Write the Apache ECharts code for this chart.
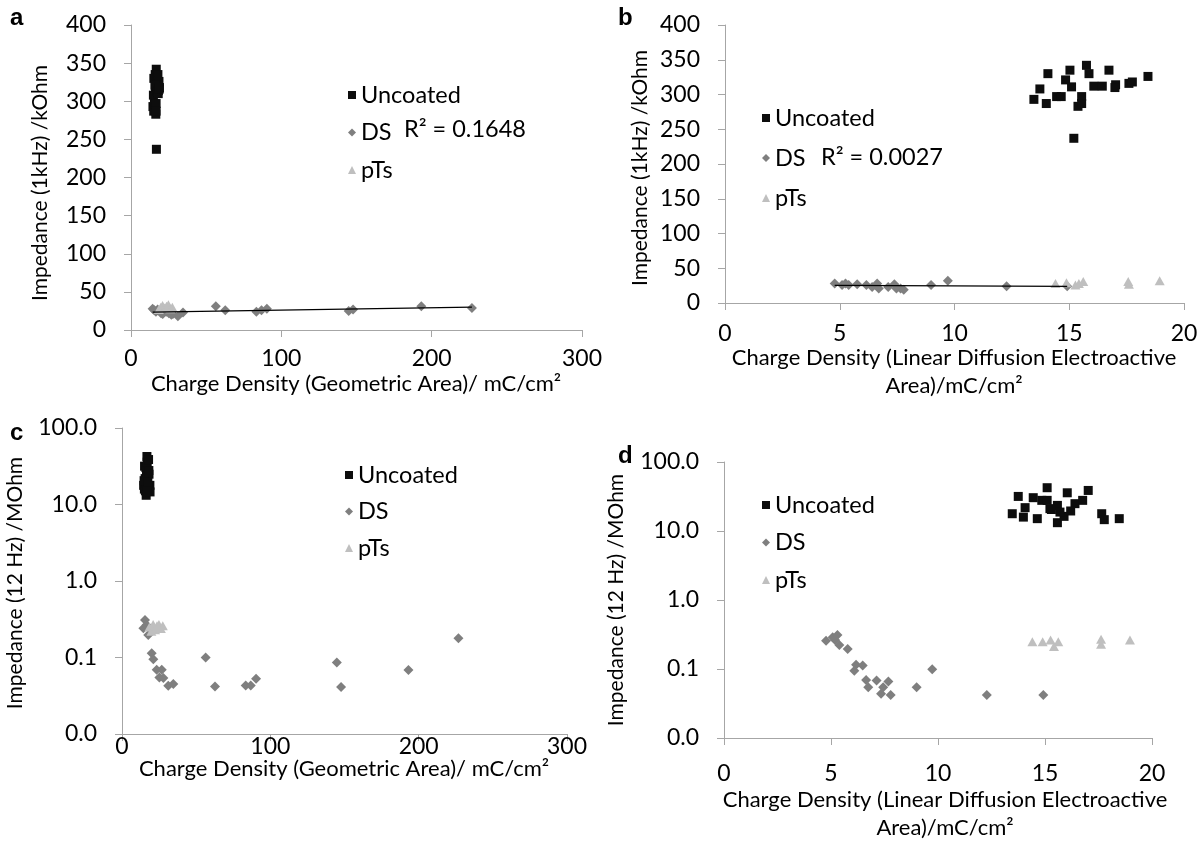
<!DOCTYPE html>
<html><head><meta charset="utf-8">
<script src="https://cdn.jsdelivr.net/npm/echarts@6/dist/echarts.min.js"></script>
<style>html,body{margin:0;padding:0;background:#fff}#c{width:1204px;height:845px}</style>
</head><body><div id="c"></div>
<script>
// ---- Panel a: Impedance (1 kHz) vs charge density (geometric area)
const aUncX = [15.2,16.1,16.8,17.0,17.9,18.6,15.9,16.3,14.9,14.6,15.1,15.6,15.8,16.7,16.5,16.7,17.2,17.6,18.2,18.1,18.8,18.9,16.9];
const aUncY = [330,335,342,330,335,326,321,311,308,293,287,297,297,297,283,287,312,312,314,310,316,318,237];
const aDsX = [14.4,15.5,16.6,17.7,20,21.1,23.4,26.8,25.2,27.9,31.2,34.6,56.4,62.7,83.4,86.8,90.4,144.8,147.7,193.1,226.8];
const aDsY = [28,26,24,27,22,21,24,20,22,21,18,23,31,26,24,26,28,25,27,31,29];
const aPtsX = [18.5,19.8,21,22.3,23.6,24.9,26.2,27.5];
const aPtsY = [27,30,32,29,31,33,28,30];
const aR2 = 'R² = 0.1648';

// ---- Panel b: Impedance (1 kHz) vs charge density (linear diffusion electroactive area)
const bUncX = [14.07,15.03,15.75,15.86,16.73,18.43,14.84,15.1,13.72,13.46,14.0,14.45,14.65,15.54,15.38,15.54,16.07,16.44,17.02,16.99,17.6,17.75,15.2];
const bUncY = [330,335,342,330,335,326,321,311,308,293,287,297,297,297,283,287,312,312,314,310,316,318,237];
const bDsX = [4.78,5.1,5.25,5.39,5.76,6.16,6.41,6.63,6.7,7.11,7.38,7.47,7.65,7.79,8.98,9.71,12.27,14.91];
const bDsY = [28,26,28,26,27,26,23,28,21,23,27,21,21,19,26,32,24,24];
const bPtsX = [14.4,14.88,15.27,15.42,15.61,17.57,17.6,18.94];
const bPtsY = [28,29,26,28,31,31,27,32];
const bR2 = 'R² = 0.0027';

// ---- Panel c: Impedance (12 Hz) vs charge density (geometric area)
const cUncX = [15.2,16.1,16.8,17.0,17.9,14.6,15.1,15.6,15.8,16.7,16.5,16.7,17.2,16.3,17.6,15.9,18.2,18.1,18.8,18.9,16.9,14.9,17.4];
const cUncY = [31.7,30.4,42.4,35.8,38.7,17.8,15.9,21.8,15.1,27.8,27.8,21.1,23.5,13.2,16.3,18.8,24.9,27.8,17.8,14.6,15.1,20.5,19.5];
const cDsX = [15.5,14.4,16.6,17.7,20,21.1,23.4,26.8,25.2,27.9,31.2,34.6,56.4,62.7,83.4,86.8,90.4,144.8,147.7,193.1,226.8];
const cDsY = [0.31,0.241,0.266,0.197,0.114,0.095,0.069,0.069,0.0547,0.0539,0.0426,0.0452,0.0998,0.0417,0.043,0.043,0.0526,0.0858,0.041,0.0689,0.179];
const cPtsX = [18.5,19.8,21,22.3,23.6,24.9,26.2,27.5];
const cPtsY = [0.25,0.22,0.27,0.23,0.26,0.27,0.24,0.26];

// ---- Panel d: Impedance (12 Hz) vs charge density (linear diffusion electroactive area)
const dUncX = [13.75,14.45,15.1,16.04,17.02,13.47,13.99,14.07,14.64,14.85,15.1,15.23,15.58,15.58,15.89,15.7,16.4,16.76,17.65,17.77,18.47,15.3,16.2];
const dUncY = [31.7,30.4,42.4,35.8,38.7,17.8,15.9,21.8,15.1,27.8,27.8,21.1,23.5,13.2,16.3,18.8,24.9,27.8,17.8,14.6,15.1,20.5,19.5];
const dDsX = [4.77,5.08,5.3,5.19,5.39,5.78,6.17,6.48,6.09,6.64,6.74,7.13,7.68,7.44,7.34,7.79,9.0,9.73,12.28,14.92];
const dDsY = [0.257,0.288,0.311,0.263,0.223,0.195,0.115,0.112,0.094,0.0695,0.0545,0.068,0.0658,0.0545,0.0437,0.042,0.0545,0.099,0.042,0.042];
const dPtsX = [14.41,14.89,15.26,15.42,15.62,17.62,17.62,18.97];
const dPtsY = [0.249,0.249,0.263,0.211,0.249,0.27,0.229,0.263];

const names = ['Uncoated','DS','pTs'];
const logTicks = ['100.0','10.0','1.0','0.1','0.0'];
const xTitleGeo = 'Charge Density (Geometric Area)/ mC/cm²';
const xTitleLin = 'Charge Density (Linear Diffusion Electroactive\nArea)/mC/cm²';
const yTitle1k = 'Impedance (1kHz) /kOhm';
const yTitle12 = 'Impedance (12 Hz) /MOhm';

const FONT = 'Lato';
const zip = (xs, ys) => xs.map((x, i) => [x, ys[i]]);
function trend(xs, ys) {
  const n = xs.length;
  const mx = xs.reduce((s, v) => s + v, 0) / n;
  const my = ys.reduce((s, v) => s + v, 0) / n;
  let sxy = 0, sxx = 0;
  for (let i = 0; i < n; i++) { sxy += (xs[i]-mx)*(ys[i]-my); sxx += (xs[i]-mx)*(xs[i]-mx); }
  const b = sxy / sxx, a = my - b * mx;
  const x0 = Math.min(...xs), x1 = Math.max(...xs);
  return [[x0, a + b*x0], [x1, a + b*x1]];
}

const axisLineGray = '#a6a6a6';
const LBL = 23;
function xAxis(gi, max, interval, margin) {
  return {
    type: 'value', gridIndex: gi, min: 0, max: max, interval: interval,
    axisLine: { show: true, lineStyle: { color: axisLineGray, width: 1 } },
    axisTick: { show: true, inside: false, length: 7, lineStyle: { color: axisLineGray } },
    axisLabel: { fontFamily: FONT, fontSize: LBL, color: '#000', margin: margin },
    splitLine: { show: false }
  };
}
function yLin(gi) {
  return {
    type: 'value', gridIndex: gi, min: 0, max: 400, interval: 50,
    axisLine: { show: true, lineStyle: { color: axisLineGray, width: 1 } },
    axisTick: { show: true, inside: false, length: 7, lineStyle: { color: axisLineGray } },
    axisLabel: { fontFamily: FONT, fontSize: LBL, color: '#000', margin: 25 },
    splitLine: { show: false }
  };
}
function yLog(gi) {
  return {
    type: 'log', logBase: 10, gridIndex: gi, min: 0.01, max: 100, splitNumber: 4,
    axisLine: { show: true, lineStyle: { color: axisLineGray, width: 1 } },
    axisTick: { show: true, inside: false, length: 7, lineStyle: { color: axisLineGray } },
    axisLabel: { fontFamily: FONT, fontSize: LBL, color: '#000', margin: 25,
      formatter: v => logTicks[Math.round(2 - Math.log10(v))] },
    splitLine: { show: false }, minorTick: { show: false }
  };
}
function scatterSet(gi, unc, ds, pts, withTrend) {
  const s = [
    { name: 'Uncoated', type: 'scatter', xAxisIndex: gi, yAxisIndex: gi, data: unc,
      symbol: 'rect', symbolSize: 9, itemStyle: { color: '#0d0d0d', opacity: 1 } },
    { name: 'DS', type: 'scatter', xAxisIndex: gi, yAxisIndex: gi, data: ds,
      symbol: 'diamond', symbolSize: [10, 10], itemStyle: { color: '#7f7f7f', opacity: 1 } },
    { name: 'pTs', type: 'scatter', xAxisIndex: gi, yAxisIndex: gi, data: pts,
      symbol: 'triangle', symbolSize: [10, 9], itemStyle: { color: '#bfbfbf', opacity: 1 } }
  ];
  if (withTrend) {
    s.push({ name: 'trend', type: 'line', xAxisIndex: gi, yAxisIndex: gi,
      data: trend(ds.map(p => p[0]), ds.map(p => p[1])), symbol: 'none', silent: true,
      lineStyle: { color: '#000', width: 1.2 }, z: 5 });
  }
  return s;
}
function legend(left, top, gap) {
  return { data: names, orient: 'vertical', left: left, top: top, itemGap: gap,
    itemWidth: 8, itemHeight: 8, selectedMode: false,
    textStyle: { fontFamily: FONT, fontSize: 23.5, color: '#000', lineHeight: 26 } };
}
function txt(x, y, text, size, bold) {
  return { type: 'text', left: x, top: y, style: { text: text, font: (bold ? 'bold ' : '') + size + 'px ' + (bold ? 'Liberation Sans' : FONT), fill: '#000' } };
}
function title(cx, cy, text, rotated, size) {
  return { type: 'text', x: cx, y: cy, rotation: rotated ? Math.PI / 2 : 0,
    style: { text: text, font: size + 'px ' + FONT, fill: '#000', lineHeight: 28,
      align: 'center', verticalAlign: 'middle', textAlign: 'center', textVerticalAlign: 'middle' } };
}

const chart = echarts.init(document.getElementById('c'), null, { renderer: 'canvas' });
chart.setOption({
  animation: false,
  backgroundColor: '#fff',
  grid: [
    { left: 131, top: 25, width: 451, height: 305, outerBoundsMode: 'none' },
    { left: 725, top: 25, width: 459, height: 278, outerBoundsMode: 'none' },
    { left: 122, top: 428, width: 445, height: 306, outerBoundsMode: 'none' },
    { left: 724, top: 462, width: 428, height: 276, outerBoundsMode: 'none' }
  ],
  xAxis: [ xAxis(0, 300, 100, 17), xAxis(1, 20, 5, 19), xAxis(2, 300, 100, 1), xAxis(3, 20, 5, 24) ],
  yAxis: [ yLin(0), yLin(1), yLog(2), yLog(3) ],
  legend: [
    legend(343, 77, 11.5),
    legend(757, 100, 14),
    legend(340, 457, 10.5),
    legend(757, 487, 11.5)
  ],
  series: [].concat(
    scatterSet(0, zip(aUncX, aUncY), zip(aDsX, aDsY), zip(aPtsX, aPtsY), true),
    scatterSet(1, zip(bUncX, bUncY), zip(bDsX, bDsY), zip(bPtsX, bPtsY), true),
    scatterSet(2, zip(cUncX, cUncY), zip(cDsX, cDsY), zip(cPtsX, cPtsY), false),
    scatterSet(3, zip(dUncX, dUncY), zip(dDsX, dDsY), zip(dPtsX, dPtsY), false)
  ),
  graphic: [
    txt(404, 117, aR2, 23.5, false),
    txt(821, 145, bR2, 23.5, false),
    txt(10, 6, 'a', 24, true),
    txt(618, 6, 'b', 24, true),
    txt(10, 421, 'c', 24, true),
    txt(618, 444, 'd', 24, true),
    title(40, 183, yTitle1k, true, 21),
    title(640, 168, yTitle1k, true, 21),
    title(15, 583, yTitle12, true, 21),
    title(616, 600, yTitle12, true, 21),
    title(356, 384, xTitleGeo, false, 22),
    title(954, 372, xTitleLin, false, 22),
    title(344, 769, xTitleGeo, false, 22),
    title(945, 814, xTitleLin, false, 22)
  ]
});
</script></body></html>
